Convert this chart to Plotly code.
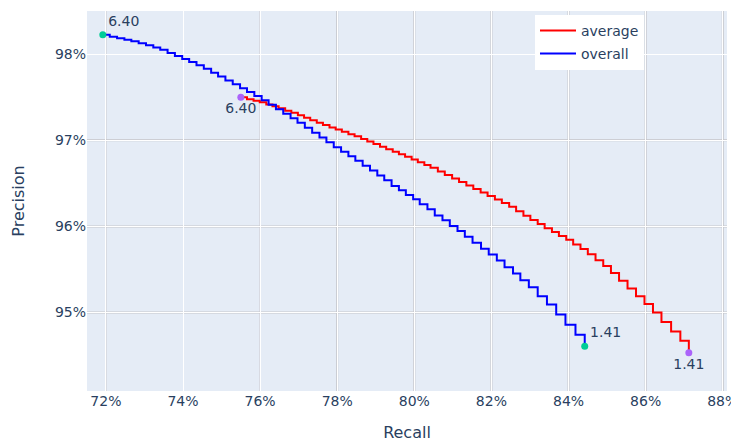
import plotly.graph_objects as go

# ---- data (recall %, precision %) ----
overall_recall = [71.92, 72.10, 72.29, 72.48, 72.66, 72.85, 73.04, 73.23, 73.41, 73.60,
                  73.79, 73.98, 74.16, 74.35, 74.54, 74.73, 74.91, 75.10, 75.29, 75.48,
                  75.66, 75.85, 76.04, 76.22, 76.41, 76.60, 76.79, 76.97, 77.16, 77.35,
                  77.54, 77.72, 77.91, 78.10, 78.29, 78.47, 78.66, 78.85, 79.04, 79.22,
                  79.41, 79.60, 79.78, 79.97, 80.14, 80.34, 80.53, 80.73, 80.92, 81.12,
                  81.31, 81.51, 81.73, 81.93, 82.14, 82.34, 82.56, 82.75, 82.97, 83.20,
                  83.44, 83.68, 83.92, 84.18, 84.42]
overall_precision = [98.224, 98.201, 98.185, 98.167, 98.148, 98.127, 98.102, 98.075, 98.050, 98.014,
                     97.978, 97.942, 97.907, 97.871, 97.829, 97.783, 97.740, 97.694, 97.649, 97.603,
                     97.560, 97.514, 97.464, 97.413, 97.360, 97.307, 97.254, 97.202, 97.145, 97.088,
                     97.031, 96.977, 96.920, 96.867, 96.814, 96.762, 96.705, 96.648, 96.591, 96.537,
                     96.470, 96.420, 96.364, 96.314, 96.256, 96.198, 96.128, 96.073, 96.004, 95.946,
                     95.880, 95.810, 95.740, 95.674, 95.605, 95.527, 95.453, 95.376, 95.294, 95.190,
                     95.093, 94.977, 94.860, 94.744, 94.608]

average_recall = [75.50, 75.66, 75.83, 75.99, 76.16, 76.32, 76.48, 76.65, 76.81, 76.98,
                  77.14, 77.30, 77.47, 77.63, 77.80, 77.96, 78.12, 78.29, 78.45, 78.62,
                  78.78, 78.94, 79.11, 79.27, 79.44, 79.60, 79.76, 79.93, 80.09, 80.26,
                  80.42, 80.61, 80.79, 80.98, 81.16, 81.35, 81.53, 81.72, 81.90, 82.09,
                  82.27, 82.46, 82.64, 82.83, 83.01, 83.20, 83.38, 83.57, 83.75, 83.94,
                  84.12, 84.31, 84.50, 84.70, 84.90, 85.10, 85.31, 85.53, 85.75, 85.97,
                  86.19, 86.41, 86.66, 86.90, 87.12]
average_precision = [97.500, 97.476, 97.459, 97.440, 97.416, 97.394, 97.370, 97.343, 97.318, 97.289,
                     97.260, 97.232, 97.202, 97.176, 97.149, 97.124, 97.098, 97.071, 97.045, 97.014,
                     96.985, 96.956, 96.926, 96.897, 96.866, 96.838, 96.809, 96.778, 96.746, 96.712,
                     96.680, 96.638, 96.596, 96.557, 96.515, 96.475, 96.434, 96.394, 96.352, 96.313,
                     96.271, 96.229, 96.176, 96.125, 96.074, 96.027, 95.978, 95.934, 95.888, 95.844,
                     95.791, 95.738, 95.676, 95.608, 95.540, 95.460, 95.370, 95.280, 95.190, 95.100,
                     95.000, 94.890, 94.780, 94.674, 94.535]

end_labels = ["6.40", "1.41"]

x_ticks = [72, 74, 76, 78, 80, 82, 84, 86, 88]
x_tick_labels = ["72%", "74%", "76%", "78%", "80%", "82%", "84%", "86%", "88%"]
y_ticks = [95, 96, 97, 98]
y_tick_labels = ["95%", "96%", "97%", "98%"]
grey_x = [78, 80, 82, 84, 86, 88]
light_x = [72, 76]
grey_y = [95, 96, 97]

FONT = "DejaVu Sans"

fig = go.Figure()
fig.add_trace(go.Scatter(x=average_recall, y=average_precision, mode="lines",
                         line=dict(color="red", width=2, shape="hv"), name="average",
                         legendgroup="a"))
fig.add_trace(go.Scatter(x=overall_recall, y=overall_precision, mode="lines",
                         line=dict(color="blue", width=2, shape="hv"), name="overall",
                         legendgroup="b"))
fig.add_trace(go.Scatter(x=[overall_recall[0], overall_recall[-1]],
                         y=[overall_precision[0], overall_precision[-1]],
                         mode="markers+text", text=end_labels, textposition="top right",
                         marker=dict(color="#00cc96", size=7),
                         textfont=dict(size=14, color="#2a3f5f"), showlegend=False))
fig.add_trace(go.Scatter(x=[average_recall[0], average_recall[-1]],
                         y=[average_precision[0], average_precision[-1]],
                         mode="markers+text", text=end_labels, textposition="bottom center",
                         marker=dict(color="#ab63fa", size=7),
                         textfont=dict(size=14, color="#2a3f5f"), showlegend=False))

for xv in grey_x:
    fig.add_shape(type="line", xref="x", yref="paper", x0=xv, x1=xv, y0=0, y1=1,
                  line=dict(color="#c5c5c9", width=2), layer="below")
for xv in light_x:
    fig.add_shape(type="line", xref="x", yref="paper", x0=xv, x1=xv, y0=0, y1=1,
                  line=dict(color="#d0d1d6", width=1.5), layer="below")
for yv in grey_y:
    fig.add_shape(type="line", xref="paper", yref="y", x0=0, x1=1, y0=yv, y1=yv,
                  line=dict(color="#c5c5c9", width=2), layer="below")

fig.update_layout(
    width=739, height=444,
    template="plotly",
    font=dict(family=FONT, size=14, color="#2a3f5f"),
    margin=dict(l=79, r=20, t=3, b=61),
    legend=dict(x=0.70, y=0.99, xanchor="left", yanchor="top", bgcolor="white",
                font=dict(size=14), itemwidth=36, tracegroupgap=2),
    xaxis=dict(title=dict(text="Recall", font=dict(size=16), standoff=18),
               range=[71.51, 88.11], tickvals=x_ticks, ticktext=x_tick_labels,
               gridcolor="white", zeroline=False, automargin=False),
    yaxis=dict(title=dict(text="Precision", font=dict(size=16), standoff=26),
               range=[94.09, 98.50], tickvals=y_ticks, ticktext=y_tick_labels,
               gridcolor="white", zeroline=False, automargin=False),
)

fig.write_html("out.html")
